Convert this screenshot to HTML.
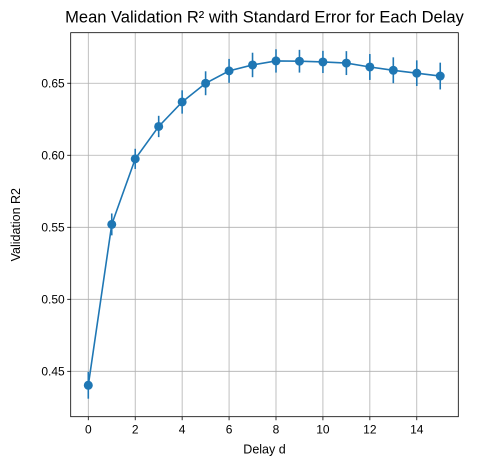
<!DOCTYPE html>
<html><head><meta charset="utf-8"><style>
body{margin:0;background:#fff;}
svg{font-family:"Liberation Sans",sans-serif;}
</style></head><body>
<svg id="chart" width="498" height="470" xmlns="http://www.w3.org/2000/svg"></svg>
<script>
const delays=[0,1,2,3,4,5,6,7,8,9,10,11,12,13,14,15];
const meanR2=[0.4403,0.552,0.5975,0.620,0.637,0.650,0.6586,0.6627,0.6655,0.6653,0.6648,0.664,0.6613,0.659,0.657,0.655];
const stdErr=[0.0093,0.0076,0.007,0.0074,0.0081,0.0083,0.0083,0.0085,0.0081,0.0079,0.0077,0.0083,0.009,0.009,0.0089,0.0093];
const xTicks=[0,2,4,6,8,10,12,14];
const yTicks=[0.45,0.50,0.55,0.60,0.65];
const L=70.7,R=458.3,T=32.7,B=416.7;
const xMin=-0.75,xMax=15.77,yMin=0.4185,yMax=0.6851;
const xs=v=>L+(v-xMin)/(xMax-xMin)*(R-L);
const ys=v=>B-(v-yMin)/(yMax-yMin)*(B-T);
const svg=document.getElementById('chart');
const NS='http://www.w3.org/2000/svg';
function mk(tag,attrs,parent){const e=document.createElementNS(NS,tag);for(const k in attrs)e.setAttribute(k,attrs[k]);(parent||svg).appendChild(e);return e;}
const grid=mk('g',{});


xTicks.forEach(t=>{const x=xs(t);
 mk('line',{x1:x,x2:x,y1:T,y2:B,stroke:'#b0b0b0','stroke-width':0.8},grid);
 mk('line',{x1:x,x2:x,y1:B,y2:B+3.5,stroke:'#000','stroke-width':0.8});
 const tx=mk('text',{x:x,y:B+17,'text-anchor':'middle','font-size':12,fill:'#000'});
 
 
 tx.textContent=t;});
yTicks.forEach(t=>{const y=ys(t);
 mk('line',{x1:L,x2:R,y1:y,y2:y,stroke:'#b0b0b0','stroke-width':0.8},grid);
 mk('line',{x1:L-3.5,x2:L,y1:y,y2:y,stroke:'#000','stroke-width':0.8});
 const tx=mk('text',{x:L-6,y:y+4.3,'text-anchor':'end','font-size':12,fill:'#000'});
 
 
 tx.textContent=t.toFixed(2);});
const series=mk('g',{});


delays.forEach((d,i)=>{const x=xs(d);
 const eb=mk('line',{x1:x,x2:x,y1:ys(meanR2[i]-stdErr[i]),y2:ys(meanR2[i]+stdErr[i]),stroke:'#1f77b4','stroke-width':1.6},series);
 
 });
mk('polyline',{points:delays.map((d,i)=>xs(d)+','+ys(meanR2[i])).join(' '),fill:'none',stroke:'#1f77b4','stroke-width':1.6},series);
delays.forEach((d,i)=>{
 const c=mk('circle',{cx:xs(d),cy:ys(meanR2[i]),r:4.5,fill:'#1f77b4'},series);
 
 });
const frame=mk('rect',{x:L,y:T,width:R-L,height:B-T,fill:'none',stroke:'#000','stroke-width':0.8});


const title=mk('text',{x:(L+R)/2,y:T-10,'text-anchor':'middle','font-size':16.5,fill:'#000'});


title.textContent='Mean Validation R² with Standard Error for Each Delay';
const xl=mk('text',{x:(L+R)/2,y:B+37,'text-anchor':'middle','font-size':12.5,fill:'#000'});


xl.textContent='Delay d';
const yl=mk('text',{x:0,y:0,'text-anchor':'middle','font-size':12.5,fill:'#000',transform:'translate(20,'+((T+B)/2)+') rotate(-90)'});


yl.textContent='Validation R2';
</script>
</body></html>
